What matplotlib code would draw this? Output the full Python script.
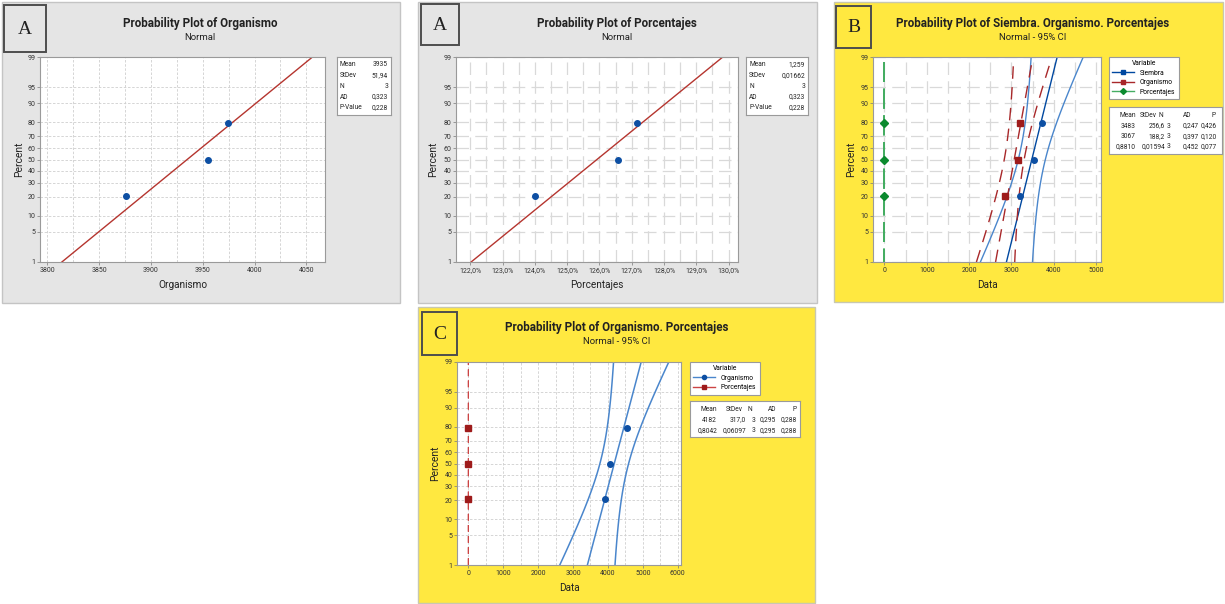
import numpy as np
import matplotlib
matplotlib.use("Agg")
import matplotlib.pyplot as plt
from matplotlib.lines import Line2D
from matplotlib.patches import Rectangle
from statistics import NormalDist

plt.rcParams["font.family"] = ["Roboto", "DejaVu Sans"]

W, H = 1225, 604

# percent axis of every probability plot
pct_ticks = [1, 5, 10, 20, 30, 40, 50, 60, 70, 80, 90, 95, 99]

organismo_a = [3876, 3955, 3974]
porcentajes_a = [1.2402, 1.2658, 1.2717]
siembra_b = [3205, 3530, 3714]
organismo_b = [2850, 3152, 3199]
porcentajes_b = [0.866, 0.878, 0.899]
organismo_c = [3925, 4065, 4556]
porcentajes_c = [0.745, 0.800, 0.868]

# summary boxes as printed by Minitab
stats_org_a = [("Mean", "3935"), ("StDev", "51,94"), ("N", "3"), ("AD", "0,323"), ("P-Value", "0,228")]
stats_por_a = [("Mean", "1,259"), ("StDev", "0,01662"), ("N", "3"), ("AD", "0,323"), ("P-Value", "0,228")]
table_cols = ["Mean", "StDev", "N", "AD", "P"]
table_b = [["3483", "256,6", "3", "0,247", "0,426"],
           ["3067", "188,2", "3", "0,397", "0,120"],
           ["0,8810", "0,01594", "3", "0,452", "0,077"]]
table_c = [["4182", "317,0", "3", "0,295", "0,288"],
           ["0,8042", "0,06097", "3", "0,295", "0,288"]]

nd = NormalDist()


def z(p):
    return nd.inv_cdf(p / 100.0)


zz = np.linspace(z(1), z(99), 100)
CI_K = 2.15


def fit(data):
    m, s, n = np.mean(data), np.std(data, ddof=1), len(data)
    half = CI_K * s * np.sqrt(1.0 / n + zz ** 2 / (2.0 * n))
    return m + zz * s, m + zz * s - half, m + zz * s + half


def ranks(data):
    n = len(data)
    return [z(100.0 * (i - 0.3) / (n + 0.4)) for i in range(1, n + 1)]


fig = plt.figure(figsize=(W / 100, H / 100), dpi=100)


def frect(x0, y0, x1, y1):
    return [x0 / W, 1 - y1 / H, (x1 - x0) / W, (y1 - y0) / H]


def ftext(x, y, s, **kw):
    return fig.text(x / W, 1 - y / H, s, **kw)


def panel(box, color, edge, lbox, letter):
    x0, y0, x1, y1 = box
    fig.add_artist(Rectangle((x0 / W, 1 - y1 / H), (x1 - x0) / W, (y1 - y0) / H,
                             transform=fig.transFigure, facecolor=color, edgecolor=edge, lw=1.0, zorder=-3))
    x0, y0, x1, y1 = lbox
    fig.add_artist(Rectangle((x0 / W, 1 - y1 / H), (x1 - x0) / W, (y1 - y0) / H,
                             transform=fig.transFigure, facecolor=color, edgecolor="#4d4d4d", lw=1.4, zorder=-2))
    ftext((x0 + x1) / 2, (y0 + y1) / 2 + 1, letter, family="Liberation Serif", fontsize=14,
          ha="center", va="center", color="#222222")


def titles(cx, y, title, sub):
    ftext(cx, y, title, fontsize=8.4, fontweight="bold", ha="center", va="center", color="#222222")
    ftext(cx, y + 15, sub, fontsize=6.8, ha="center", va="center", color="#222222")


def prob_axes(rect, xlim, major, minor, fmt, grid_ls, grid_lw, grid_c):
    ax = fig.add_axes(frect(*rect))
    ax.set_facecolor("white")
    ax.set_xlim(xlim)
    ax.set_ylim(z(1), z(99))
    ax.set_yticks([z(p) for p in pct_ticks], [str(p) for p in pct_ticks])
    ax.set_xticks(major, [fmt(v) for v in major])
    ax.set_xticks(minor, minor=True)
    ax.tick_params(which="major", length=2, width=0.5, color="#777777", labelsize=5, pad=1.5,
                   labelcolor="#333333")
    ax.tick_params(which="minor", length=0)
    ax.grid(True, which="both", color=grid_c, lw=grid_lw, ls=grid_ls)
    ax.set_axisbelow(True)
    for s in ax.spines.values():
        s.set_color("#9a9a9a")
        s.set_linewidth(0.8)
    return ax


def axis_labels(xl, yl, ax_rect):
    x0, y0, x1, y1 = ax_rect
    ftext(xl[0], (y0 + y1) / 2, "Percent", rotation=90, fontsize=7.4, ha="center", va="center", color="#222222")
    ftext((x0 + x1) / 2, yl[1], yl[0], fontsize=7.2, ha="center", va="center", color="#222222")


def small(x, y, s, ha):
    # baseline alignment keeps digits and commas on one line
    ftext(x, y + 2, s, fontsize=4.8, ha=ha, va="baseline", color="#222222")


def box_axes(rect):
    bx = fig.add_axes(frect(*rect))
    bx.set_xticks([])
    bx.set_yticks([])
    for s in bx.spines.values():
        s.set_color("#9a9a9a")
        s.set_linewidth(0.8)
    return bx


def stat_box(rect, rows):
    x0, y0, x1, y1 = rect
    box_axes(rect)
    for i, (k, v) in enumerate(rows):
        y = y0 + 7.3 + 10.75 * i
        small(x0 + 3, y, k, "left")
        small(x1 - 3, y, v, "right")


def table_box(rect, head_x, val_x, rows_y, cols, rows):
    box_axes(rect)
    for c, hx in zip(cols, head_x):
        small(hx, rows_y[0], c, "right")
    for r, ry in zip(rows, rows_y[1:]):
        for v, vx in zip(r, val_x):
            small(vx, ry, v, "right")


def fmt_int(v):
    return f"{v:g}"


def fmt_pct(v):
    return f"{v * 100:.1f}%".replace(".", ",")


GRAY, GRAY_EDGE = "#e5e5e5", "#c4c4c4"
YELLOW, YELLOW_EDGE = "#ffe840", "#c8c8b0"
BLUE_PT = "#0d4fa3"
RED_FIT = "#b5352f"
FINE = ((0, (3, 2)), 0.6, "#cfcfcf")
COARSE = ((0, (10, 5)), 0.9, "#d9d9d9")

# ---------------- panel A (Organismo) ----------------
panel((2, 2, 400, 303), GRAY, GRAY_EDGE, (4, 5, 46, 52), "A")
titles(200, 23, "Probability Plot of Organismo", "Normal")
r1 = (40, 57, 325, 262)
ax1 = prob_axes(r1, (3793, 4068), np.arange(3800, 4051, 50), np.arange(3825, 4051, 50), fmt_int, *FINE)
f, lo, hi = fit(organismo_a)
ax1.plot(f, zz, color=RED_FIT, lw=1.0)
ax1.plot(sorted(organismo_a), ranks(organismo_a), "o", color=BLUE_PT, ms=4)
axis_labels((19,), ("Organismo", 285), r1)
stat_box((337, 57, 391, 115), stats_org_a)

# ---------------- panel A (Porcentajes) ----------------
panel((418, 2, 817, 303), GRAY, GRAY_EDGE, (421, 4, 459, 45), "A")
titles(617, 23, "Probability Plot of Porcentajes", "Normal")
r2 = (456, 57, 738, 262)
ax2 = prob_axes(r2, (1.2156, 1.3029), np.arange(1.22, 1.3001, 0.01), np.arange(1.225, 1.30, 0.01), fmt_pct,
                *COARSE)
f, lo, hi = fit(porcentajes_a)
ax2.plot(f, zz, color=RED_FIT, lw=1.0)
ax2.plot(sorted(porcentajes_a), ranks(porcentajes_a), "o", color=BLUE_PT, ms=4)
axis_labels((433,), ("Porcentajes", 285), r2)
stat_box((746, 57, 808, 115), stats_por_a)

# ---------------- panel B ----------------
panel((834, 2, 1223, 302), YELLOW, YELLOW_EDGE, (836, 6, 871, 48), "B")
titles(1033, 23, "Probability Plot of Siembra. Organismo. Porcentajes", "Normal - 95% CI")
r3 = (873, 57, 1101, 262)
ax3 = prob_axes(r3, (-270, 5118), np.arange(0, 5001, 1000), np.arange(500, 5001, 1000), fmt_int, *COARSE)
f, lo, hi = fit(siembra_b)
ax3.plot(lo, zz, color="#4a86cc", lw=1.0)
ax3.plot(hi, zz, color="#4a86cc", lw=1.0)
ax3.plot(f, zz, color="#0048a0", lw=1.0)
f, lo, hi = fit(organismo_b)
for line in (lo, f, hi):
    ax3.plot(line, zz, color="#a8282a", lw=1.0, ls=(0, (9, 6)))
f, lo, hi = fit(porcentajes_b)
for line in (lo, f, hi):
    ax3.plot(line, zz, color="#45ad62", lw=1.2, ls=(4, (12, 4)))
ax3.plot(sorted(siembra_b), ranks(siembra_b), "o", color=BLUE_PT, ms=4, zorder=5)
ax3.plot(sorted(organismo_b), ranks(organismo_b), "s", color="#9e1b1b", ms=4, zorder=5)
ax3.plot(sorted(porcentajes_b), ranks(porcentajes_b), "D", color="#0b8a2e", ms=3.6, zorder=5)
axis_labels((851,), ("Data", 285), r3)
hb = [Line2D([], [], color="#0048a0", lw=1, marker="s", ms=3),
      Line2D([], [], color="#a8282a", lw=1, marker="s", ms=3.5),
      Line2D([], [], color="#45ad62", lw=1, marker="D", mfc="#0b8a2e", mec="#0b8a2e", ms=3)]
leg = ax3.legend(hb, ["Siembra", "Organismo", "Porcentajes"], title="Variable", loc="upper left",
                 bbox_to_anchor=(1109 / W, 1 - 57 / H), bbox_transform=fig.transFigure,
                 fontsize=4.9, title_fontsize=4.9, fancybox=False, edgecolor="#9a9a9a", framealpha=1,
                 borderpad=0.5, handlelength=3.2, labelspacing=0.35, borderaxespad=0)
leg.get_frame().set_linewidth(0.8)
table_box((1109, 107, 1222, 154), [1136, 1157, 1163, 1191, 1216], [1136, 1165, 1170, 1199, 1217],
          [115, 125.5, 136.2, 146.5], table_cols, table_b)

# ---------------- panel C ----------------
panel((418, 307, 815, 603), YELLOW, YELLOW_EDGE, (422, 312, 457, 355), "C")
titles(617, 327, "Probability Plot of Organismo. Porcentajes", "Normal - 95% CI")
r4 = (457, 362, 681, 565)
ax4 = prob_axes(r4, (-327, 6095), np.arange(0, 6001, 1000), np.arange(500, 6001, 1000), fmt_int, *FINE)
f, lo, hi = fit(organismo_c)
for line in (lo, f, hi):
    ax4.plot(line, zz, color="#4a86cc", lw=1.1)
f, lo, hi = fit(porcentajes_c)
for line in (lo, f, hi):
    ax4.plot(line, zz, color="#cc4444", lw=0.8, ls=(0, (6, 4)))
ax4.plot(sorted(organismo_c), ranks(organismo_c), "o", color=BLUE_PT, ms=4, zorder=5)
ax4.plot(sorted(porcentajes_c), ranks(porcentajes_c), "s", color="#9e1b1b", ms=4, zorder=5)
axis_labels((435,), ("Data", 588), r4)
hc = [Line2D([], [], color="#4a86cc", lw=1, marker="o", mfc=BLUE_PT, mec=BLUE_PT, ms=3),
      Line2D([], [], color="#cc4444", lw=1, marker="s", mfc="#9e1b1b", mec="#9e1b1b", ms=3.5)]
leg = ax4.legend(hc, ["Organismo", "Porcentajes"], title="Variable", loc="upper left",
                 bbox_to_anchor=(690 / W, 1 - 362 / H), bbox_transform=fig.transFigure,
                 fontsize=4.9, title_fontsize=4.9, fancybox=False, edgecolor="#9a9a9a", framealpha=1,
                 borderpad=0.5, handlelength=3.2, labelspacing=0.35, borderaxespad=0)
leg.get_frame().set_linewidth(0.8)
table_box((690, 401, 800, 437), [717, 743, 752, 776, 797], [717, 746, 755, 776, 797],
          [409, 419.5, 430.5], table_cols, table_c)

fig.savefig("out.png", dpi=100)
